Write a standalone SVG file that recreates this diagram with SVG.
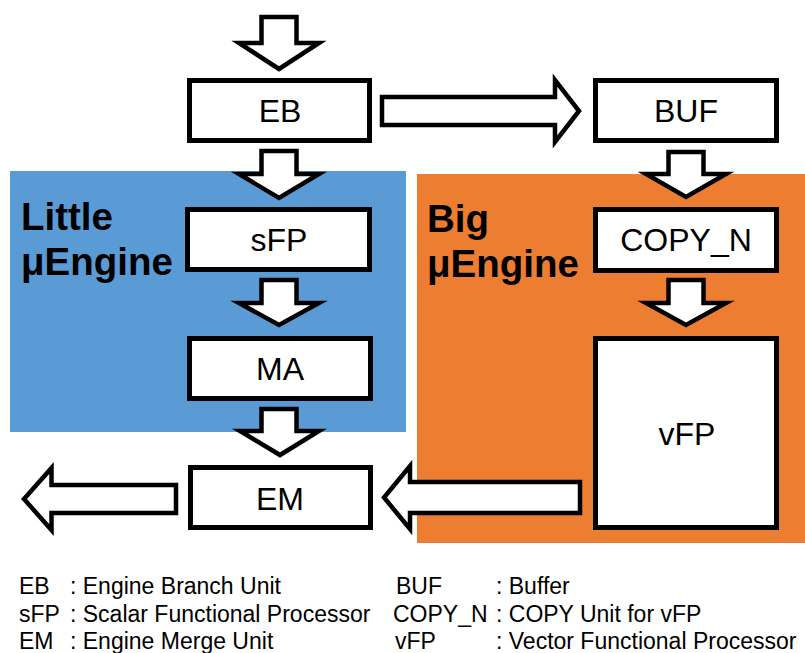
<svg xmlns="http://www.w3.org/2000/svg" width="805" height="653" viewBox="0 0 805 653">
<style>
.box{fill:#fff;stroke:#000;stroke-width:5}
.arr{fill:#fff;stroke:#000;stroke-width:4.5;stroke-linejoin:miter;stroke-miterlimit:10}
.lbl{font-family:"Liberation Sans",Arial,sans-serif;font-size:32px;fill:#000;text-anchor:middle}
.grp{font-family:"Liberation Sans",Arial,sans-serif;font-size:38.5px;font-weight:bold;fill:#000}
.leg{font-family:"Liberation Sans",Arial,sans-serif;font-size:23px;fill:#000}
</style>
<rect width="805" height="653" fill="#fff"/>
<g id="little-region">
<rect x="10" y="171" width="396" height="261" fill="#5B9BD5"/>
<text class="grp" x="21" y="230">Little</text>
<text class="grp" x="21" y="275">μEngine</text>
</g>
<g id="big-region">
<rect x="417" y="174" width="388" height="369" fill="#ED7D31"/>
<text class="grp" x="427" y="232">Big</text>
<text class="grp" x="427" y="277">μEngine</text>
</g>
<g id="connectors">
<path class="arr" d="M261.5,17 H296.5 V43 H319 L279,69 L239,43 H261.5 Z"/>
<path class="arr" d="M261.5,151 H296.5 V174 H319 L279,198 L239,174 H261.5 Z"/>
<path class="arr" d="M261.5,280 H296.5 V303 H319 L279,325 L239,303 H261.5 Z"/>
<path class="arr" d="M261.5,409 H296.5 V431 H319 L280,455 L240,431 H261.5 Z"/>
<path class="arr" d="M668.5,152 H703.5 V174 H726 L686,197 L646,174 H668.5 Z"/>
<path class="arr" d="M668.5,280 H703.5 V303 H726 L686,325 L646,303 H668.5 Z"/>
<path class="arr" d="M382,97 H555 V80 L579,111 L555,142 V125 H382 Z"/>
<path class="arr" d="M580,482 H410 V466 L384,497.5 L410,529 V513 H580 Z"/>
<path class="arr" d="M176,485 H51.5 V468 L24,499 L51.5,530 V513 H176 Z"/>
</g>
<g id="EB"><rect class="box" x="189.5" y="80.5" width="180" height="60"/><text class="lbl" x="280" y="121.5">EB</text></g>
<g id="BUF"><rect class="box" x="595.5" y="80.5" width="181" height="60"/><text class="lbl" x="686" y="122">BUF</text></g>
<g id="sFP"><rect class="box" x="187.5" y="209.5" width="182" height="60"/><text class="lbl" x="279" y="251">sFP</text></g>
<g id="MA"><rect class="box" x="189.5" y="338.5" width="181" height="60"/><text class="lbl" x="280" y="380">MA</text></g>
<g id="EM"><rect class="box" x="190.5" y="467.5" width="180" height="60"/><text class="lbl" x="280" y="509.5">EM</text></g>
<g id="COPY_N"><rect class="box" x="595.5" y="209.5" width="181" height="61"/><text class="lbl" x="686" y="251">COPY_N</text></g>
<g id="vFP"><rect class="box" x="595.5" y="338.5" width="181" height="189"/><text class="lbl" x="687" y="445">vFP</text></g>
<g id="legend">
<text class="leg" x="19" y="594">EB</text><text class="leg" x="70" y="594">: Engine Branch Unit</text>
<text class="leg" x="19" y="621.5">sFP</text><text class="leg" x="70" y="621.5">: Scalar Functional Processor</text>
<text class="leg" x="19" y="649">EM</text><text class="leg" x="70" y="649">: Engine Merge Unit</text>
<text class="leg" x="396" y="594">BUF</text><text class="leg" x="496" y="594">: Buffer</text>
<text class="leg" x="393" y="621.5">COPY_N</text><text class="leg" x="496" y="621.5">: COPY Unit for vFP</text>
<text class="leg" x="395" y="649">vFP</text><text class="leg" x="496" y="649">: Vector Functional Processor</text>
</g>
</svg>
